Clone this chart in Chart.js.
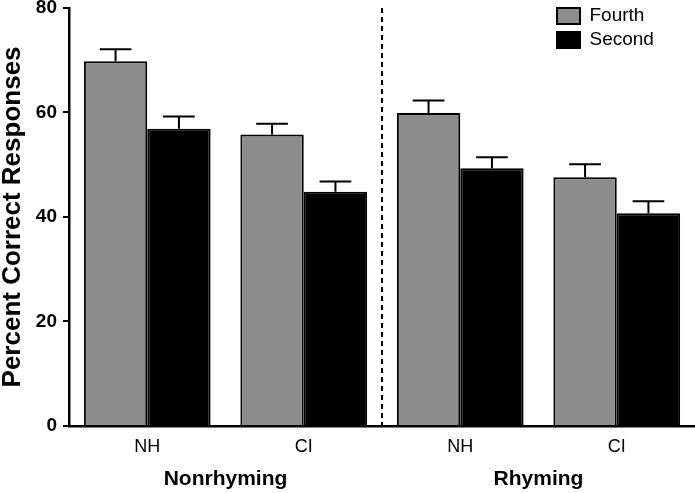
<!DOCTYPE html>
<html>
<head>
<meta charset="utf-8">
<script src="https://cdn.jsdelivr.net/npm/chart.js@4/dist/chart.umd.min.js"></script>
<style>
  html, body { margin: 0; padding: 0; background: #fff; }
  #wrap { width: 695px; height: 493px; position: relative; }
</style>
</head>
<body>
<div id="wrap"><canvas id="c"></canvas></div>
<script>
// ---- data ----
const categories = ['NH', 'CI', 'NH', 'CI'];
const groupLabels = ['Nonrhyming', 'Rhyming'];
const seriesNames = ['Fourth', 'Second'];
const fourthValues = [69.8, 55.8, 59.9, 47.6];
const fourthErrors = [2.3, 2.05, 2.4, 2.5];
const secondValues = [56.9, 44.8, 49.3, 40.7];
const secondErrors = [2.3, 2.0, 2.1, 2.3];
const yTicks = [0, 20, 40, 60, 80];

const FONT = '"Liberation Sans", Arial, Helvetica, sans-serif';
Chart.defaults.font.family = FONT;
Chart.defaults.color = '#000';

const errorBars = {
  id: 'errorBars',
  afterDatasetsDraw(chart) {
    const ctx = chart.ctx;
    const ys = chart.scales.y;
    chart.data.datasets.forEach((ds, di) => {
      const meta = chart.getDatasetMeta(di);
      meta.data.forEach((bar, i) => {
        const v = ds.data[i];
        const e = ds.errors[i];
        const yTop = ys.getPixelForValue(v + e);
        const half = bar.width / 4;
        ctx.save();
        ctx.strokeStyle = '#000';
        ctx.lineWidth = 2;
        ctx.beginPath();
        ctx.moveTo(bar.x, bar.y);
        ctx.lineTo(bar.x, yTop);
        ctx.moveTo(bar.x - half, yTop);
        ctx.lineTo(bar.x + half, yTop);
        ctx.stroke();
        ctx.restore();
      });
    });
  }
};

const divider = {
  id: 'divider',
  afterDatasetsDraw(chart) {
    const xs = chart.scales.x;
    const ca = chart.chartArea;
    const x = Math.round((xs.getPixelForValue(1) + xs.getPixelForValue(2)) / 2);
    const ctx = chart.ctx;
    ctx.save();
    ctx.strokeStyle = '#000';
    ctx.lineWidth = 2;
    ctx.setLineDash([5, 4]);
    ctx.beginPath();
    ctx.moveTo(x, ca.top);
    ctx.lineTo(x, ca.bottom);
    ctx.stroke();
    ctx.restore();
  }
};

const legendMove = {
  id: 'legendMove',
  afterLayout(chart) {
    const lg = chart.legend;
    if (!lg) return;
    const ca = chart.chartArea;
    lg.left = ca.right - 143;
    lg.right = lg.left + lg.width;
    lg.top = ca.top - 6.5;
    lg.bottom = lg.top + lg.height;
  }
};

new Chart(document.getElementById('c'), {
  type: 'bar',
  data: {
    labels: categories,
    datasets: [
      {
        label: seriesNames[0],
        data: fourthValues,
        errors: fourthErrors,
        backgroundColor: '#8c8c8c',
        borderColor: '#000',
        borderWidth: 2,
        categoryPercentage: 0.81,
        barPercentage: 1.0
      },
      {
        label: seriesNames[1],
        data: secondValues,
        errors: secondErrors,
        backgroundColor: '#000',
        borderColor: '#000',
        borderWidth: 2,
        categoryPercentage: 0.81,
        barPercentage: 1.0
      }
    ]
  },
  options: {
    responsive: true,
    maintainAspectRatio: false,
    animation: false,
    layout: { padding: { top: 0, right: 0, bottom: 0, left: 0 } },
    plugins: {
      tooltip: { enabled: false },
      legend: {
        position: 'chartArea',
        align: 'start',
        labels: {
          boxWidth: 23,
          boxHeight: 16,
          padding: 5,
          color: '#000',
          font: { size: 19, family: FONT }
        }
      }
    },
    scales: {
      x: {
        type: 'category',
        offset: true,
        weight: 0,
        grid: { display: false, drawTicks: false },
        border: { display: true, color: '#000', width: 2.5 },
        ticks: { padding: 10, color: '#000', font: { size: 18, family: FONT } },
        afterFit(s) { s.height = 32; }
      },
      x2: {
        type: 'category',
        labels: groupLabels,
        position: 'bottom',
        offset: true,
        weight: 1,
        grid: { display: false, drawTicks: false },
        border: { display: false },
        ticks: { padding: 9, color: '#000', font: { size: 21, weight: 'bold', family: FONT } },
        afterFit(s) { s.height = 35; }
      },
      y: {
        min: yTicks[0],
        max: yTicks[yTicks.length - 1],
        afterBuildTicks(s) { s.ticks = yTicks.map(v => ({ value: v })); },
        ticks: {
          padding: 6,
          color: '#000',
          font: { size: 19, weight: 'bold', family: FONT, lineHeight: 0.2 }
        },
        grid: {
          display: true,
          drawOnChartArea: false,
          drawTicks: true,
          tickLength: 6,
          color: '#000',
          lineWidth: 2
        },
        border: { display: true, color: '#000', width: 2.5 },
        title: {
          display: true,
          text: 'Percent Correct Responses',
          color: '#000',
          padding: 0,
          font: { size: 26, weight: 'bold', family: FONT, lineHeight: 1.0 }
        },
        afterFit(s) { s.width = 69; }
      }
    }
  },
  plugins: [errorBars, divider, legendMove]
});
</script>
</body>
</html>
